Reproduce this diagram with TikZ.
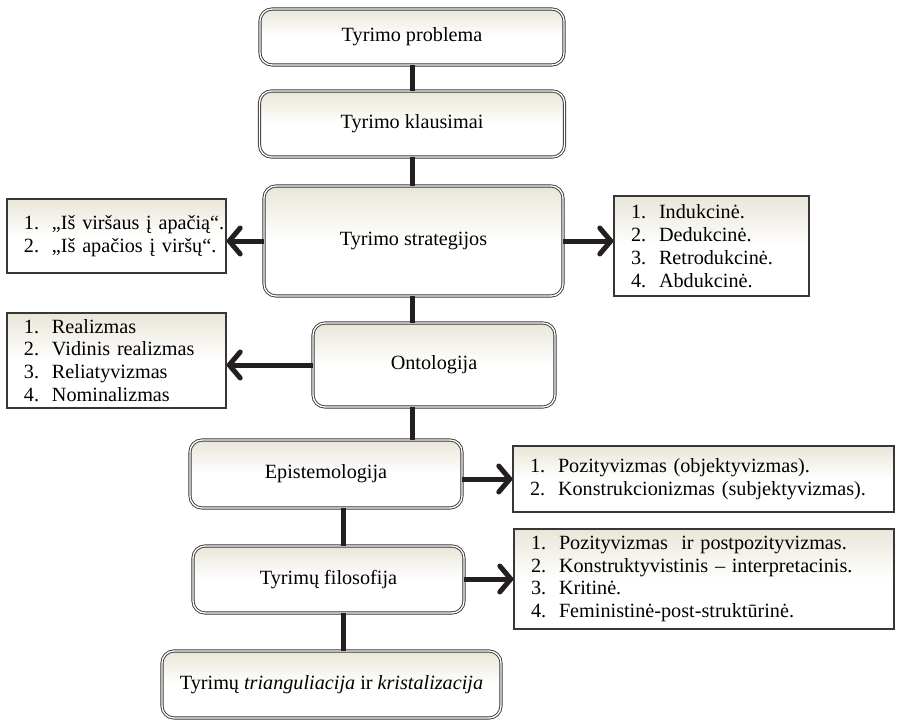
\documentclass[tikz,border=0pt]{standalone}
\usepackage{fontspec}
\setmainfont{Liberation Serif}
\usetikzlibrary{arrows.meta}

\definecolor{boxbeige}{RGB}{233,230,216}
\definecolor{inkline}{RGB}{35,31,32}
\definecolor{framegray}{RGB}{55,55,55}

% one numbered row of a list box: indent, number column, text
\newcommand\listrow[2]{\hspace*{17pt}\makebox[28pt][l]{#1}#2}

\tikzset{
  stage/.style={rounded corners=12pt, draw=framegray, double=white,
    line width=0.9pt, double distance=1.3pt,
    top color=boxbeige, bottom color=white, middle color=white,
    align=center, inner sep=0pt, font=\fontsize{20.2}{23}\selectfont},
  listbox/.style={draw=framegray, line width=1.4pt,
    top color=boxbeige, bottom color=white, middle color=white,
    inner sep=0pt, align=left, font=\fontsize{20.2}{22.8}\selectfont},
  conn/.style={line width=5pt, draw=inkline},
  arr/.style={conn, -{Straight Barb[length=11pt, width=26pt, round]}}
}

\begin{document}
\begin{tikzpicture}[x=1pt, y=-1pt]
  \fill[white] (0,0) rectangle (899,720);
  \useasboundingbox (0,0) rectangle (899,720);

  % main column
  \node[stage, minimum width=304pt, minimum height=56pt] (p1) at (412,37) {Tyrimo problema};
  \node[stage, minimum width=305pt, minimum height=66pt] (p2) at (412,124) {Tyrimo klausimai};
  \node[stage, minimum width=299pt, minimum height=110pt] (strat) at (413.5,241) {Tyrimo strategijos};
  \node[stage, minimum width=242pt, minimum height=84pt] (onto) at (434,365) {Ontologija};
  \node[stage, minimum width=272pt, minimum height=68pt] (epi) at (326,474) {Epistemologija};
  \node[stage, minimum width=271pt, minimum height=67pt] (filo) at (328.5,579.5) {Tyrimų filosofija};
  \node[stage, minimum width=339pt, minimum height=67pt] (tri) at (331.5,684.5)
    {Tyrimų \textit{trianguliacija} ir \textit{kristalizacija}};

  % side lists
  \node[listbox, text width=219pt, minimum height=74pt] (la) at (116.5,236)
    {\listrow{1.}{„Iš viršaus į apačią“.}\\
     \listrow{2.}{„Iš apačios į viršų“.}};
  \node[listbox, text width=195pt, minimum height=100pt] (lb) at (711.5,246)
    {\listrow{1.}{Indukcinė.}\\
     \listrow{2.}{Dedukcinė.}\\
     \listrow{3.}{Retrodukcinė.}\\
     \listrow{4.}{Abdukcinė.}};
  \node[listbox, text width=219pt, minimum height=95pt] (lc) at (116.5,360.5)
    {\listrow{1.}{Realizmas}\\
     \listrow{2.}{Vidinis realizmas}\\
     \listrow{3.}{Reliatyvizmas}\\
     \listrow{4.}{Nominalizmas}};
  \node[listbox, text width=381pt, minimum height=66pt] (ld) at (703.5,479)
    {\listrow{1.}{Pozityvizmas (objektyvizmas).}\\
     \listrow{2.}{Konstrukcionizmas (subjektyvizmas).}};
  \node[listbox, text width=380pt, minimum height=100pt] (le) at (704,579)
    {\listrow{1.}{Pozityvizmas\ \ ir postpozityvizmas.}\\
     \listrow{2.}{Konstruktyvistinis -- interpretacinis.}\\
     \listrow{3.}{Kritinė.}\\
     \listrow{4.}{Feministinė-post-struktūrinė.}};

  % vertical links
  \coordinate (lowspine) at (343,0);
  \draw[conn] (p1.south) -- (p2.north);
  \draw[conn] (p2.south) -- (strat.north -| p2.south);
  \draw[conn] (strat.south -| p2.south) -- (onto.north -| p2.south);
  \draw[conn] (onto.south -| p2.south) -- (epi.north -| p2.south);
  \draw[conn] (epi.south -| lowspine) -- (filo.north -| lowspine);
  \draw[conn] (filo.south -| lowspine) -- (tri.north -| lowspine);

  % arrows to the lists
  \draw[arr] (strat.west) -- (strat.west -| la.east);
  \draw[arr] (strat.east) -- (strat.east -| lb.west);
  \draw[arr] (onto.west) -- (onto.west -| lc.east);
  \draw[arr] (ld.west -| epi.east) -- (ld.west);
  \draw[arr] (le.west -| filo.east) -- (le.west);
\end{tikzpicture}
\end{document}
